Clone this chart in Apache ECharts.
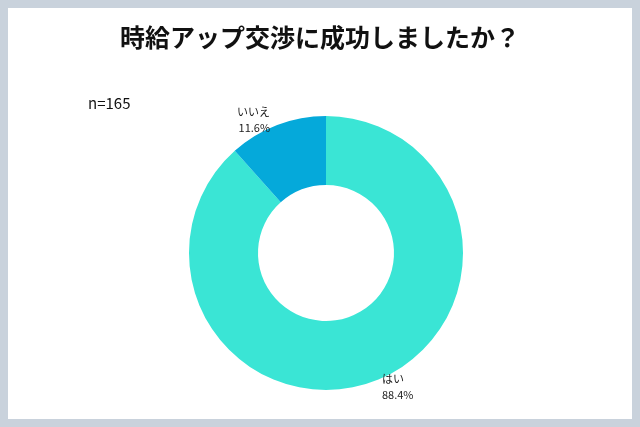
<!DOCTYPE html>
<html><head><meta charset="utf-8">
<script src="https://cdn.jsdelivr.net/npm/echarts@6/dist/echarts.min.js"></script>
<style>
html,body{margin:0;padding:0;background:#c9d2dc;}
#wrap{position:absolute;left:8px;top:8px;width:624px;height:411px;background:#fff;}
#chart{width:624px;height:411px;}
</style></head>
<body><div id="wrap"><div id="chart"></div></div>
<script>
const labels = ['はい', 'いいえ'];
const values = [88.4, 11.6];
const colors = ['#3ae5d5', '#05a9da'];

const chart = echarts.init(document.getElementById('chart'));
chart.setOption({
  animation: false,
  title: [{
    text: '時給アップ交渉に成功しましたか？',
    left: 'center', top: 12,
    textStyle: { fontSize: 25, fontWeight: 'bold', color: '#111', fontFamily: '"Noto Sans CJK JP"' }
  }, {
    text: 'n=165', left: 75, top: 83,
    textStyle: { fontSize: 15, fontWeight: 'normal', color: '#111', fontFamily: '"Noto Sans CJK JP"' }
  }],
  series: [{
    type: 'pie',
    center: [318, 245],
    radius: [68, 137],
    startAngle: 90,
    clockwise: true,
    data: labels.map((name, i) => ({ name, value: values[i], itemStyle: { color: colors[i] } })),
    label: {
      position: 'outside',
      formatter: p => p.name + '\n' + p.value.toFixed(1) + '%',
      fontSize: 11, lineHeight: 16, color: '#222', align: 'left',
      fontFamily: '"Noto Sans CJK JP"'
    },
    labelLine: { show: false, length: 6, length2: 0 }
  }]
});
</script></body></html>
